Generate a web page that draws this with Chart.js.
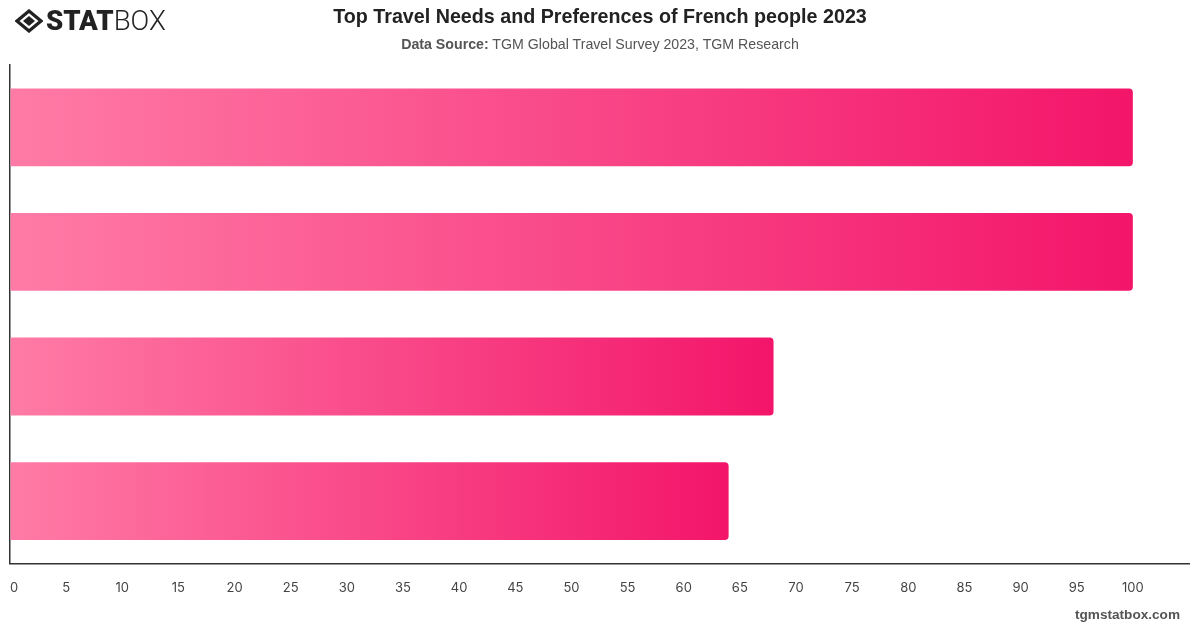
<!DOCTYPE html>
<html>
<head>
<meta charset="utf-8">
<script src="https://cdn.jsdelivr.net/npm/chart.js@4.4.1/dist/chart.umd.min.js"></script>
<style>
  html, body { margin: 0; padding: 0; background: #fff; }
  body { width: 1200px; height: 628px; position: relative; overflow: hidden; font-family: "Liberation Sans", Arial, sans-serif; }
  #logo { position: absolute; left: 15px; top: 6px; height: 30px; display: flex; align-items: center; }
  #logo .word { font-family: Roboto, "Liberation Sans", sans-serif; font-size: 27.6px; color: #222; margin-left: 3px; line-height: 30px; }
  #logo .stat { font-weight: 900; }
  #logo .box { font-weight: 300; }
  #title { position: absolute; left: 0; width: 1200px; top: 5px; text-align: center; font-size: 19.7px; font-weight: bold; color: #222; }
  #subtitle { position: absolute; left: 0; width: 1200px; top: 36px; text-align: center; font-size: 14.2px; color: #555; }
  #subtitle b { color: #555; }
  #footer { position: absolute; right: 20px; top: 607px; font-size: 13.6px; font-weight: bold; color: #555; }
  #wrap { position: absolute; left: 0; top: 0; width: 1200px; height: 628px; }
</style>
</head>
<body>
<div id="wrap"><canvas id="chart"></canvas></div>
<div id="logo">
  <svg width="28" height="24" viewBox="0 0 28 24">
    <polygon points="14,2 26,12 14,22 2,12" fill="none" stroke="#222" stroke-width="3.2"/>
    <polygon points="14,7 20,12 14,17 8,12" fill="#222"/>
  </svg>
  <span class="word"><span class="stat">STAT</span><span class="box">BOX</span></span>
</div>
<div id="title">Top Travel Needs and Preferences of French people 2023</div>
<div id="subtitle"><b>Data Source:</b> TGM Global Travel Survey 2023, TGM Research</div>
<div id="footer">tgmstatbox.com</div>
<script>
// categories are not labelled in the picture
const categories = ['Need 1', 'Need 2', 'Need 3', 'Need 4'];
const values = [100, 100, 68, 64];
const xTicks = [0, 5, 10, 15, 20, 25, 30, 35, 40, 45, 50, 55, 60, 65, 70, 75, 80, 85, 90, 95, 100];

function barGradient(context) {
  const chart = context.chart;
  const { ctx, chartArea } = chart;
  if (!chartArea || context.type !== 'data') return '#f5176b';
  const xScale = chart.scales.x;
  const x0 = xScale.getPixelForValue(0);
  const x1 = xScale.getPixelForValue(context.raw);
  const g = ctx.createLinearGradient(x0, 0, Math.max(x1, x0 + 1), 0);
  g.addColorStop(0, '#ff7ba6');
  g.addColorStop(1, '#f3156a');
  return g;
}

new Chart(document.getElementById('chart'), {
  type: 'bar',
  data: {
    labels: categories,
    datasets: [{
      data: values,
      backgroundColor: barGradient,
      borderRadius: 4,
      borderSkipped: 'start',
      barPercentage: 0.78,
      categoryPercentage: 0.8
    }]
  },
  options: {
    indexAxis: 'y',
    responsive: true,
    maintainAspectRatio: false,
    animation: false,
    layout: { padding: { top: 65, left: 10, right: 11, bottom: 32 } },
    scales: {
      x: {
        min: 0,
        max: 105,
        // invisible tick marks keep the labels away from the axis line
        grid: { display: true, drawOnChartArea: false, drawTicks: true, tickLength: 17, color: 'rgba(0,0,0,0)' },
        border: { display: true, color: '#333', width: 1.5 },
        ticks: {
          stepSize: 5,
          autoSkip: false,
          maxRotation: 0,
          align: 'inner',
          padding: 0,
          color: '#444',
          font: { family: 'Inter', size: 13 },
          callback: v => (xTicks.includes(v) ? String(v) : '')
        }
      },
      y: {
        grid: { display: false, drawTicks: false },
        border: { display: true, color: '#333', width: 1.5 },
        ticks: { display: false },
        afterFit: scale => { scale.width = 0; }
      }
    },
    plugins: {
      legend: { display: false },
      tooltip: { enabled: false }
    }
  }
});
</script>
</body>
</html>
